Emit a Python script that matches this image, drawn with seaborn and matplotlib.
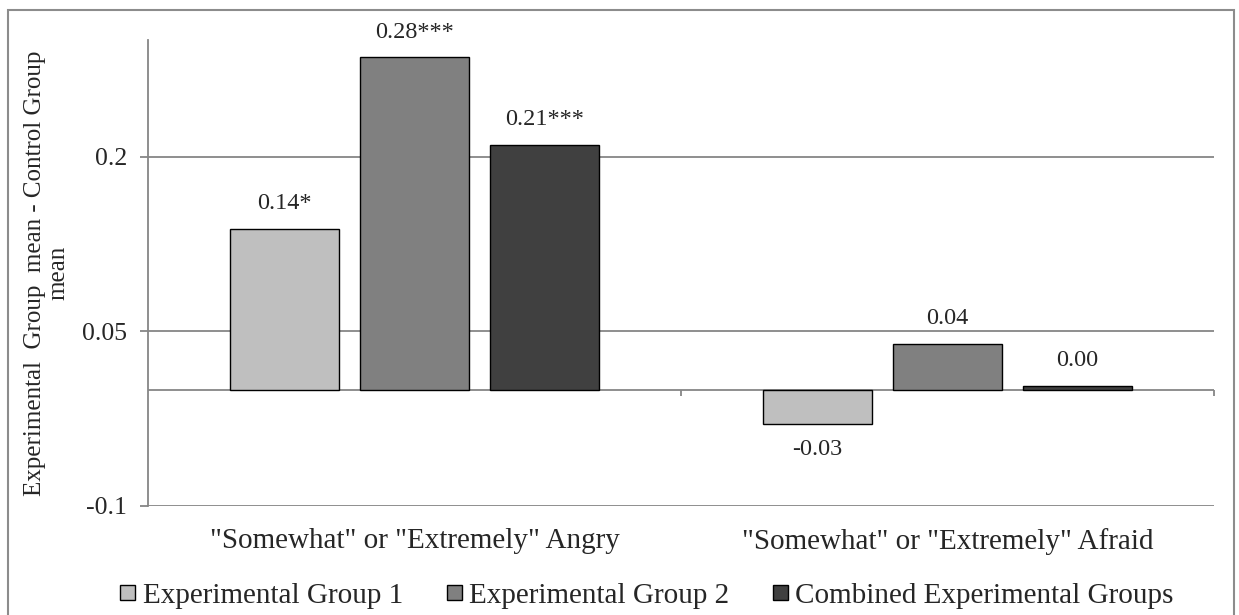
import matplotlib
matplotlib.use('Agg')
import matplotlib.pyplot as plt
import seaborn as sns
import pandas as pd
from matplotlib.patches import Rectangle, Patch

# ---- data ----
categories = ['"Somewhat" or "Extremely" Angry', '"Somewhat" or "Extremely" Afraid']
series = ['Experimental Group 1', 'Experimental Group 2', 'Combined Experimental Groups']
group1 = [0.138, -0.030]
group2 = [0.285, 0.039]
combined = [0.210, 0.003]
labels_group1 = ['0.14*', '-0.03']
labels_group2 = ['0.28***', '0.04']
labels_combined = ['0.21***', '0.00']
y_ticks = [-0.1, 0.05, 0.2]
y_tick_labels = ['-0.1', '0.05', '0.2']
y_label = 'Experimental  Group  mean - Control Group\nmean'
colors = ['#BFBFBF', '#808080', '#404040']

rows = []
for s, vals in zip(series, [group1, group2, combined]):
    for c, v in zip(categories, vals):
        rows.append({'category': c, 'series': s, 'value': v})
df = pd.DataFrame(rows)

sns.set_style('white')
plt.rcParams['font.family'] = ['Liberation Serif', 'DejaVu Serif']

W, H = 1239, 615
fig = plt.figure(figsize=(W / 100, H / 100), dpi=100)
ax = fig.add_axes([148 / W, 1 - 506 / H, (1214 - 148) / W, (506 - 40) / H])

grid_c = '#868686'
sns.barplot(data=df, x='category', y='value', hue='series', order=categories,
            hue_order=series, palette=colors, width=0.731, gap=0.155,
            edgecolor='black', linewidth=1.0, errorbar=None, ax=ax,
            legend=False, zorder=3)

ax.set_xlim(-0.5, 1.5)
ax.set_ylim(-0.1, 0.3)
ax.set_yticks(y_ticks)
ax.set_yticklabels(y_tick_labels, fontsize=18.5)
ax.set_xticks([0, 1])
ax.set_xticklabels(categories, fontsize=21)
ax.tick_params(axis='x', length=0, pad=16)
ax.tick_params(axis='y', length=5.8, width=1.3, color=grid_c, pad=9.4, left=True)
ax.set_xlabel('')
ax.set_ylabel('')
ax.yaxis.grid(True, color=grid_c, lw=1.3)
ax.set_axisbelow(True)
for sp in ['top', 'right', 'bottom']:
    ax.spines[sp].set_visible(False)
ax.spines['left'].set_color(grid_c)
ax.spines['left'].set_linewidth(1.3)

ax.axhline(0, color=grid_c, lw=1.3, zorder=2)
ax.vlines([0.5, 1.5], -0.006, 0, color=grid_c, lw=1.3, clip_on=False, zorder=2)

for cont, labs in zip(ax.containers, [labels_group1, labels_group2, labels_combined]):
    ax.bar_label(cont, labels=labs, padding=10.5, fontsize=17.5)

fig.text(47 / W, 1 - 273 / H, y_label, rotation=90, ha='center', va='center',
         multialignment='center', fontsize=18, linespacing=1.1)

handles = [Patch(facecolor=c, edgecolor='black', lw=1.0) for c in colors]
fig.legend(handles, series, loc='center', bbox_to_anchor=(647 / W, 19 / H),
           ncol=3, frameon=False, fontsize=21, handlelength=0.52,
           handleheight=0.42, handletextpad=0.25, columnspacing=1.5,
           borderpad=0.1)

fig.patches.append(Rectangle((7.5 / W, -0.05), (1234 - 7.5) / W, 1 - 10 / H + 0.05,
                             transform=fig.transFigure, fill=False,
                             edgecolor='#8c8c8c', lw=1.5))

fig.savefig('out.png', dpi=100)
